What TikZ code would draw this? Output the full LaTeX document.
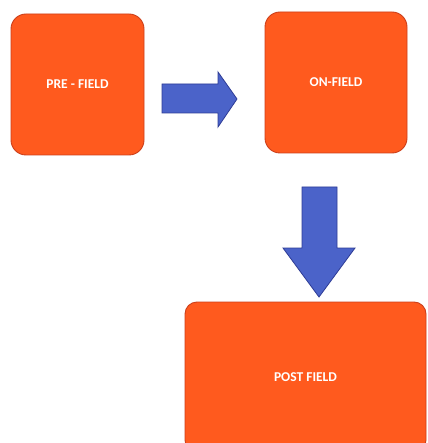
\documentclass[tikz,border=0pt]{standalone}
\usepackage{fontspec}
\setmainfont{Carlito}
\begin{document}
\begin{tikzpicture}[x=1pt,y=-1pt,
  stagebox/.style={draw=boxedge,line width=0.9pt,fill=boxfill,rounded corners=15pt,
    minimum width=#1,inner sep=0pt,text=white,font=\bfseries\fontsize{13.5}{15}\selectfont},
  blockarrow/.style={draw=arrowedge,line width=0.8pt,fill=arrowfill}]
\definecolor{boxfill}{HTML}{FF5A1E}
\definecolor{boxedge}{HTML}{CC3F1A}
\definecolor{arrowfill}{HTML}{4B63C9}
\definecolor{arrowedge}{HTML}{2E3C96}
\useasboundingbox (0,0) rectangle (427,443);
\clip (0,0) rectangle (427,443);
\fill[white] (0,0) rectangle (427,443);
\node[stagebox=133pt,minimum height=141pt] (pre) at (77.5,84.5) {PRE - FIELD};
\node[stagebox=142pt,minimum height=141pt] (on) at (336,82.5) {ON-FIELD};
\node[stagebox=241pt,minimum height=150pt,rounded corners=12pt] (post) at (305.5,377) {POST FIELD};
\draw[blockarrow] (162,84) -- (218,84) -- (218,72) -- (237,99) -- (218,127) -- (218,113) -- (162,113) -- cycle;
\draw[blockarrow] (302,187) -- (337,187) -- (337,248) -- (355,248) -- (319,297) -- (283,248) -- (302,248) -- cycle;
\end{tikzpicture}
\end{document}
